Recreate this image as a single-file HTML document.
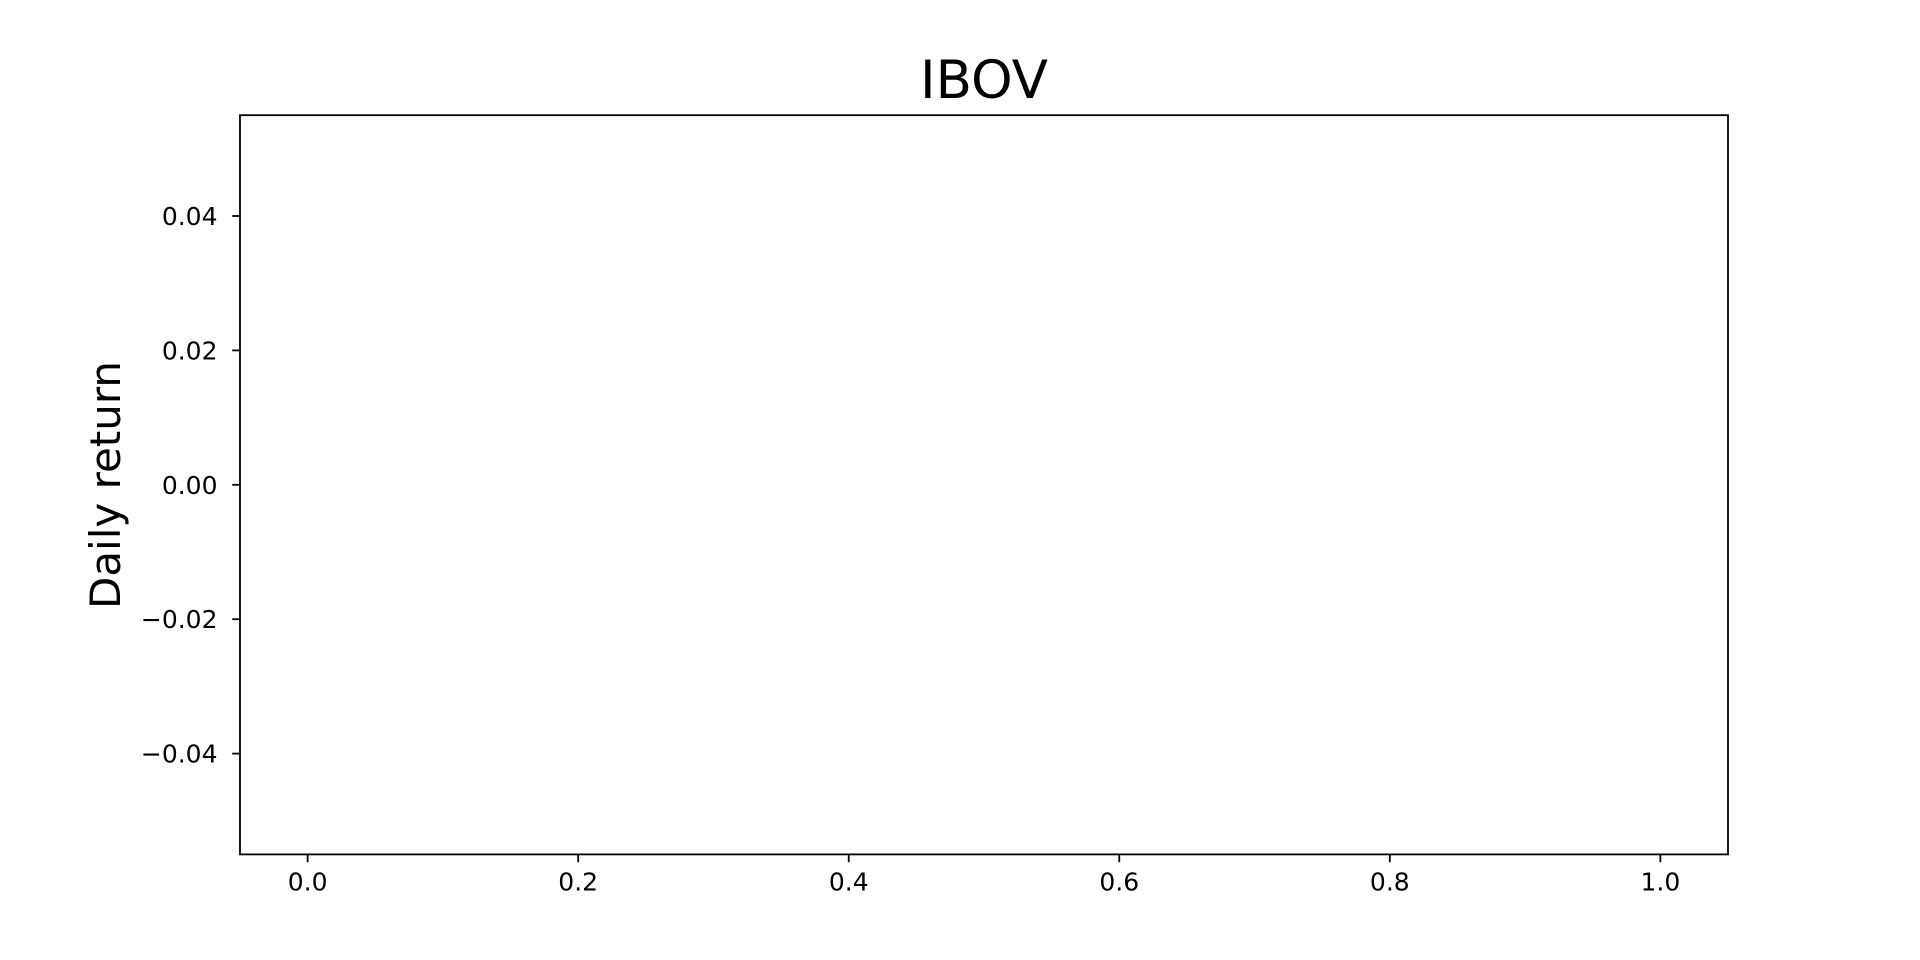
<!DOCTYPE html>
<html>
<head>
<meta charset="utf-8">
<style>
  html, body { margin: 0; padding: 0; background: #ffffff; }
  svg { display: block; }
  text { font-family: "DejaVu Sans", "Liberation Sans", sans-serif; fill: #000; }
</style>
</head>
<body>
<svg id="chart" width="1920" height="960" viewBox="0 0 1920 960" xmlns="http://www.w3.org/2000/svg">
  <rect x="0" y="0" width="1920" height="960" fill="#ffffff"/>
  <text x="984" y="98" font-size="53" text-anchor="middle">IBOV</text>
  <text transform="translate(120,485) rotate(-90)" font-size="42" text-anchor="middle">Daily return</text>
  <g id="plot"></g>
</svg>
<script>
const xTicks = [0.0, 0.2, 0.4, 0.6, 0.8, 1.0];
const xTickLabels = ["0.0", "0.2", "0.4", "0.6", "0.8", "1.0"];
const yTicks = [-0.04, -0.02, 0.0, 0.02, 0.04];
const yTickLabels = ["\u22120.04", "\u22120.02", "0.00", "0.02", "0.04"];
const dates = [];
const returns = [];
const xDomain = [-0.05, 1.05];
const yDomain = [-0.055, 0.055];

const L = 240, R = 1728, T = 115.2, B = 854.4;
function xs(v) { return L + (v - xDomain[0]) / (xDomain[1] - xDomain[0]) * (R - L); }
function ys(v) { return B - (v - yDomain[0]) / (yDomain[1] - yDomain[0]) * (B - T); }
const NS = "http://www.w3.org/2000/svg";
const g = document.getElementById('plot');
function mk(tag, attrs) {
  const e = document.createElementNS(NS, tag);
  for (const k in attrs) e.setAttribute(k, attrs[k]);
  g.appendChild(e);
  return e;
}

if (returns.length) {
  const pts = returns.map((v, i) => xs(dates[i]) + ',' + ys(v)).join(' ');
  const line = mk('polyline', {points: pts, fill: 'none', stroke: '#1f77b4', 'stroke-width': 2});
  
  
}

xTicks.forEach((v, i) => {
  const x = xs(v);
  const t = mk('line', {x1: x, x2: x, y1: B, y2: B + 7.8, stroke: '#000', 'stroke-width': 1.8});
  
  
  const lb = mk('text', {x: x, y: B + 36, 'font-size': 25, 'text-anchor': 'middle'});
  lb.textContent = xTickLabels[i];
  
  
});
yTicks.forEach((v, i) => {
  const y = ys(v);
  const t = mk('line', {x1: L - 7.8, x2: L, y1: y, y2: y, stroke: '#000', 'stroke-width': 1.8});
  
  
  const lb = mk('text', {x: L - 22.5, y: y + 9, 'font-size': 25, 'text-anchor': 'end'});
  lb.textContent = yTickLabels[i];
  
  
});
const frame = mk('rect', {x: L, y: T, width: R - L, height: B - T, fill: 'none', stroke: '#000', 'stroke-width': 1.8});


</script>
</body>
</html>
